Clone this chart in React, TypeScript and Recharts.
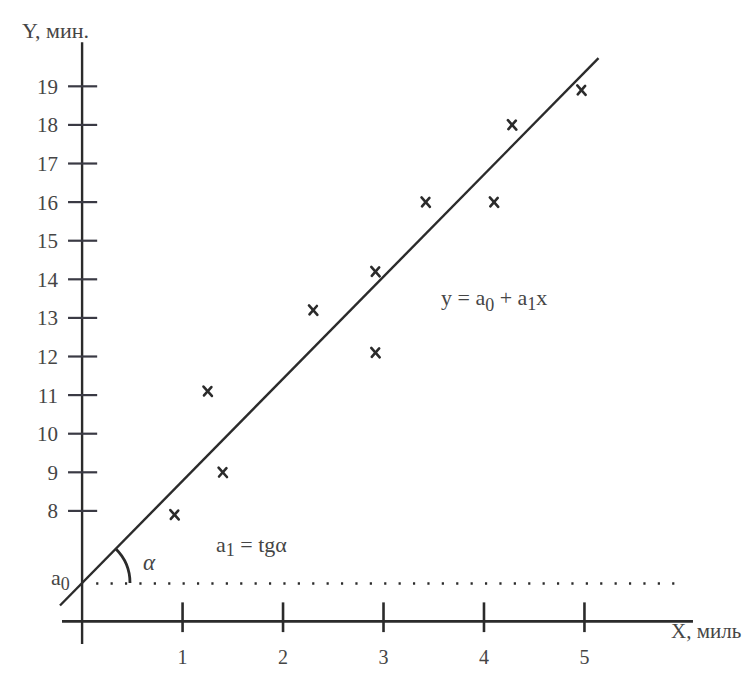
import React from 'react';
import { ScatterChart, Scatter, XAxis, YAxis, ReferenceLine } from 'recharts';

// observations (X, миль ; Y, мин.)
const obsX = [0.92, 1.25, 1.4, 2.3, 2.92, 2.92, 3.42, 4.1, 4.28, 4.97];
const obsY = [7.9, 11.1, 9.0, 13.2, 14.2, 12.1, 16.0, 16.0, 18.0, 18.9];

// tick labels
const xTicks = [1, 2, 3, 4, 5];
const yTicks = [8, 9, 10, 11, 12, 13, 14, 15, 16, 17, 18, 19];

// regression line endpoints (y = a0 + a1 x)
const fitX = [-0.22, 5.14];
const fitY = [5.55, 19.73];

// intercept a0
const a0 = 6.12;

// axis extents
const xAxisLevel = 5.14;
const xAxisExtent = [-0.2, 6.08];
const yAxisExtent = [4.55, 20.14];

const FONT = '"Liberation Serif", "Times New Roman", serif';
const INK = '#2b2b2b';
const TEXT = '#454545';

const data = obsX.map((x, i) => ({ x, y: obsY[i] }));

const CrossMark = (props: any) => {
  const { cx, cy } = props;
  if (cx == null || cy == null) return null;
  const s = 4.2;
  return (
    <g stroke={INK} strokeWidth={2.6} strokeLinecap="round">
      <line x1={cx - s} y1={cy - s - 0.5} x2={cx + s} y2={cy + s + 0.5} />
      <line x1={cx - s + 0.5} y1={cy + s} x2={cx + s - 0.5} y2={cy - s} />
    </g>
  );
};

export default function App() {
  return (
    <div style={{ position: 'absolute', left: 0, top: 0, width: 756, height: 675, background: '#fff' }}>
      <ScatterChart
        width={756}
        height={675}
        margin={{ top: 40, right: 56, bottom: 0, left: 2 }}
      >
        <XAxis
          type="number"
          dataKey="x"
          domain={[-0.2, 6.15]}
          allowDataOverflow
          ticks={xTicks}
          interval={0}
          axisLine={false}
          tickLine={false}
          tickSize={2}
          tickMargin={2}
          height={29}
          tick={{ fill: TEXT, fontSize: 20, fontFamily: FONT }}
        />
        <YAxis
          type="number"
          dataKey="y"
          domain={[4.5, 20.2]}
          allowDataOverflow
          ticks={yTicks}
          interval={0}
          axisLine={false}
          tickLine={false}
          tickSize={2}
          tickMargin={2}
          width={60}
          tick={{ fill: TEXT, fontSize: 21, fontFamily: FONT }}
        />

        {/* Y axis line */}
        <ReferenceLine
          segment={[{ x: 0, y: yAxisExtent[0] }, { x: 0, y: yAxisExtent[1] }]}
          stroke={INK}
          strokeWidth={2.4}
          ifOverflow="visible"
        />
        {/* X axis line */}
        <ReferenceLine
          segment={[{ x: xAxisExtent[0], y: xAxisLevel }, { x: xAxisExtent[1], y: xAxisLevel }]}
          stroke={INK}
          strokeWidth={2.8}
          ifOverflow="visible"
        />
        {/* Y tick marks */}
        {yTicks.map((v) => (
          <ReferenceLine
            key={'yt' + v}
            segment={[{ x: -0.14, y: v }, { x: 0.15, y: v }]}
            stroke="#3a3a44"
            strokeWidth={2.2}
            ifOverflow="visible"
          />
        ))}
        {/* X tick marks */}
        {xTicks.map((v) => (
          <ReferenceLine
            key={'xt' + v}
            segment={[{ x: v, y: 4.86 }, { x: v, y: 5.63 }]}
            stroke={INK}
            strokeWidth={2.6}
            ifOverflow="visible"
          />
        ))}
        {/* a0 dotted level */}
        <ReferenceLine
          segment={[{ x: 0.14, y: a0 }, { x: 6.0, y: a0 }]}
          stroke={INK}
          strokeWidth={2.4}
          strokeDasharray="2.2 12.2"
          ifOverflow="visible"
        />
        {/* regression line */}
        <ReferenceLine
          segment={[{ x: fitX[0], y: fitY[0] }, { x: fitX[1], y: fitY[1] }]}
          stroke={INK}
          strokeWidth={2.4}
          ifOverflow="visible"
        />

        <Scatter data={data} shape={CrossMark} isAnimationActive={false} />

        {/* angle arc */}
        <path d="M115.7 548.8 A48 48 0 0 1 130 583" fill="none" stroke={INK} strokeWidth={2.8} />

        {/* annotations */}
        <text x={22} y={38} fontFamily={FONT} fontSize={22} fill={TEXT}>Y, мин.</text>
        <text x={671} y={638} fontFamily={FONT} fontSize={21} fill={TEXT}>X, миль</text>
        <text x={51} y={585} fontFamily={FONT} fontSize={22} fill={TEXT}>
          a<tspan dy={5} fontSize={18}>0</tspan>
        </text>
        <text x={143} y={570} fontFamily={FONT} fontSize={23} fontStyle="italic" fill={TEXT}>α</text>
        <text x={216} y={552} fontFamily={FONT} fontSize={22} fill={TEXT}>
          a<tspan dy={4} fontSize={18}>1</tspan><tspan dy={-4}> = tgα</tspan>
        </text>
        <text x={441} y={305} fontFamily={FONT} fontSize={22} fill={TEXT}>
          y = a<tspan dy={6} fontSize={18}>0</tspan><tspan dy={-6}> + a</tspan><tspan dy={5} fontSize={18}>1</tspan><tspan dy={-5}>x</tspan>
        </text>
      </ScatterChart>
    </div>
  );
}
